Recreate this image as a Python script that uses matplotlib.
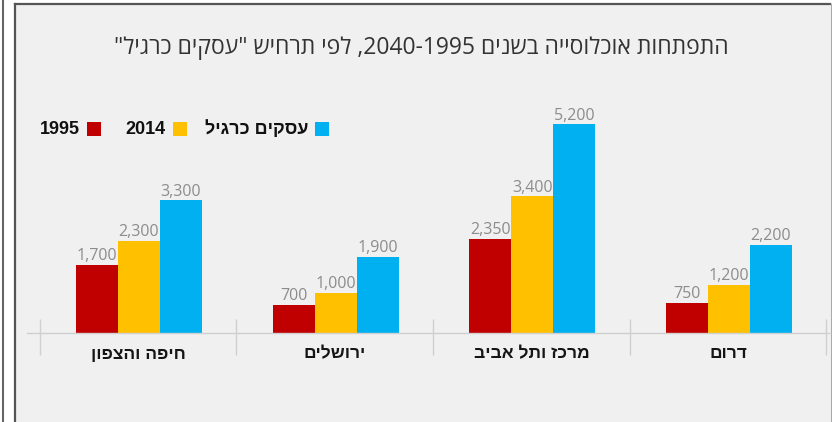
import re
import numpy as np
import matplotlib
matplotlib.use("Agg")
import matplotlib.pyplot as plt
from matplotlib.lines import Line2D
from matplotlib.patches import Rectangle

W, H = 832, 422

# data
regions = ["חיפה והצפון", "ירושלים", "מרכז ותל אביב", "דרום"]
series = ["1995", "2014", "עסקים כרגיל"]
v1995 = [1700, 700, 2350, 750]
v2014 = [2300, 1000, 3400, 1200]
v_bau = [3300, 1900, 5200, 2200]
colors = ["#c00000", "#ffc000", "#00b0f0"]
title = 'התפתחות אוכלוסייה בשנים 1995-2040, לפי תרחיש "עסקים כרגיל"'

HEB = ["Liberation Sans", "DejaVu Sans"]
OPEN = ["Open Sans", "DejaVu Sans"]


def vis(s):
    # matplotlib does no bidi: flip to visual order, digits stay readable
    r = s[::-1]
    return re.sub(r"\d+", lambda m: m.group(0)[::-1], r)


def fx(x):
    return x / W


def fy(y):
    return 1 - y / H


fig = plt.figure(figsize=(W / 100, H / 100), dpi=100, facecolor="white")

# frame / panel
fig.add_artist(Rectangle((fx(15), 0), fx(830) - fx(15), fy(4), transform=fig.transFigure,
                         facecolor="#f0f0f0", edgecolor="none", zorder=-10))
fig.add_artist(Line2D([fx(15), fx(15)], [0, fy(4)], color="#555555", lw=1.6))
fig.add_artist(Line2D([fx(15), fx(830)], [fy(4), fy(4)], color="#555555", lw=1.6))
fig.add_artist(Line2D([fx(830.5), fx(830.5)], [0, fy(4)], color="#aaaaaa", lw=1))
fig.add_artist(Line2D([fx(2.5), fx(2.5)], [0, 1], color="#666666", lw=1.5))

ax = fig.add_axes([fx(39.7), fy(333), fx(826.3) - fx(39.7), fy(124) - fy(333)])
ax.set_xlim(-0.5, 3.5)
ax.set_ylim(0, 5200)
ax.axis("off")
upx = 5200 / 209  # data units per pixel

x = np.arange(len(regions))
bw = 0.2135
for i, (vals, c) in enumerate(zip([v1995, v2014, v_bau], colors)):
    pos = x + (i - 1) * bw + 0.005
    ax.bar(pos, vals, bw, color=c, linewidth=0)
    for p, v in zip(pos, vals):
        ax.annotate(f"{v:,}", (p, v), xytext=(0, 3.2), textcoords="offset points",
                    ha="center", va="baseline", fontsize=11.5, color="#8c8c8c",
                    family=OPEN)

# base line and separators
ax.plot([-0.566, 3.515], [0, 0], color="#cfcfcf", lw=1, clip_on=False)
ax.vlines(np.arange(5) - 0.5, -22 * upx, 14 * upx, color="#d0d0d0", lw=1, clip_on=False)

for xi, r in zip(x, regions):
    ax.text(xi, -21 * upx, vis(r), ha="center", va="center", fontsize=12.5,
            fontweight="bold", color="#151515", family=HEB)

# title
fig.text(fx(421), fy(48), vis(title), ha="center", va="center", fontsize=16.5,
         color="#333333", family=OPEN)

# legend
sq_x = [87, 173, 315]
for sx, name, c in zip(sq_x, series, colors):
    fig.add_artist(Rectangle((fx(sx), fy(136)), fx(14), 14 / H, transform=fig.transFigure,
                             facecolor=c, edgecolor="none"))
    fig.text(fx(sx - 7), fy(129.5), vis(name), ha="right", va="center", fontsize=13,
             fontweight="bold", color="#111111", family=HEB)

fig.savefig("out.png", dpi=100, facecolor="white")
